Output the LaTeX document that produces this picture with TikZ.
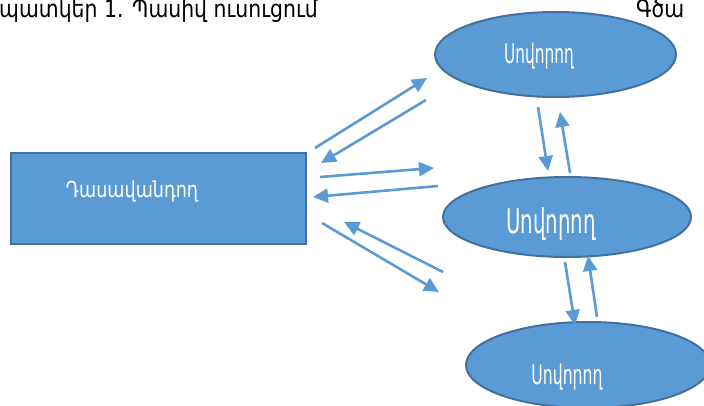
\documentclass[tikz,border=0pt]{standalone}
\usepackage{fontspec}
\usepackage{graphicx}
\setmainfont{DejaVu Sans}
\newfontfamily\armfont{DejaVu Sans}
\usetikzlibrary{arrows.meta,shapes.geometric}
\definecolor{accblue}{HTML}{5B9BD5}
\definecolor{accedge}{HTML}{41719C}
\tikzset{
  learner/.style={ellipse, fill=accblue, draw=accedge, line width=2pt, text=white, inner sep=0pt},
  teacherbox/.style={rectangle, fill=accblue, draw=accedge, line width=2pt, text=white, inner sep=0pt},
  flow/.style={draw=accblue, line width=2.6pt, -{Triangle[length=15pt,width=14pt]}},
  lbl/.style={text=white, inner sep=0pt},
}
\begin{document}
\begin{tikzpicture}[x=1pt,y=-1pt]
\useasboundingbox (0,0) rectangle (704,406);
% header
\node[anchor=base west, inner sep=0pt, font=\armfont\fontsize{24}{26}\selectfont] (hdr) at (-1,18) {\scalebox{0.85}[1]{պատկեր 1. Պասիվ ուսուցում}};
\node[anchor=base west, inner sep=0pt, font=\armfont\fontsize{24}{26}\selectfont] (hdr2) at (636,18) {\scalebox{0.85}[1]{Գծա}};
% nodes
\node[teacherbox, minimum width=295pt, minimum height=91pt] (teacher) at (158.5,198.5) {};
\node[lbl, font=\armfont\fontsize{22}{24}\selectfont] (tlabel) at (132,191) {\scalebox{0.8}[1]{Դասավանդող}};
\node[learner, minimum width=241pt, minimum height=85pt] (s1) at (555.5,54.5) {};
\node[lbl, font=\armfont\fontsize{27}{30}\selectfont] (s1l) at (539,56) {\scalebox{0.57}[1]{Սովորող}};
\node[learner, minimum width=248pt, minimum height=80pt] (s2) at (567,217) {};
\node[lbl, font=\armfont\fontsize{34}{36}\selectfont] (s2l) at (551,224) {\scalebox{0.58}[1]{Սովորող}};
\node[learner, minimum width=244pt, minimum height=86pt] (s3) at (588,365) {};
\node[lbl, font=\armfont\fontsize{27}{30}\selectfont] (s3l) at (567,377) {\scalebox{0.58}[1]{Սովորող}};
% connector endpoints
\coordinate (a1s) at (315,148); \coordinate (a1e) at (427,78);
\coordinate (a2s) at (426,100); \coordinate (a2e) at (321,163);
\coordinate (a3s) at (320,177); \coordinate (a3e) at (434,168);
\coordinate (a4s) at (438,186); \coordinate (a4e) at (313,197);
\coordinate (a5s) at (443,272); \coordinate (a5e) at (344,222);
\coordinate (a6s) at (322,223); \coordinate (a6e) at (439,292);
\coordinate (b1s) at (538,107); \coordinate (b1e) at (548,171);
\coordinate (b2s) at (570,173); \coordinate (b2e) at (560,112);
\coordinate (c1s) at (565,262); \coordinate (c1e) at (575,325);
\coordinate (c2s) at (597,317); \coordinate (c2e) at (588,256);
% connectors
\draw[flow] (a1s) -- (a1e);
\draw[flow] (a2s) -- (a2e);
\draw[flow] (a3s) -- (a3e);
\draw[flow] (a4s) -- (a4e);
\draw[flow] (a5s) -- (a5e);
\draw[flow] (a6s) -- (a6e);
\draw[flow] (b1s) -- (b1e);
\draw[flow] (b2s) -- (b2e);
\draw[flow] (c1s) -- (c1e);
\draw[flow] (c2s) -- (c2e);
\end{tikzpicture}
\end{document}
